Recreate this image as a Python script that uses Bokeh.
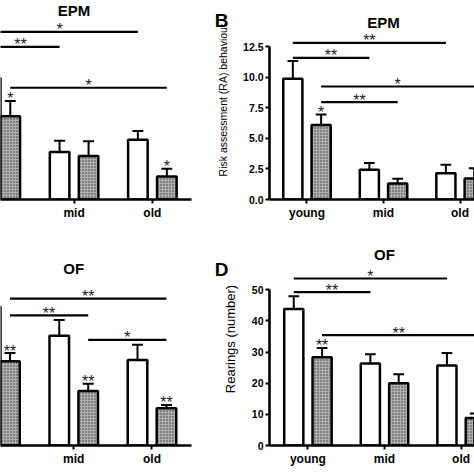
from bokeh.plotting import figure
from bokeh.models import Range1d, FixedTicker, NumeralTickFormatter, LinearAxis
from bokeh.layouts import column, row
from bokeh.embed import file_html
from bokeh.resources import INLINE
from bokeh.core.properties import value

categories = ["young", "mid", "old"]

# Panel A (EPM, left, y axis cropped away)
a_open = [62.0, 24.2, 30.5]
a_open_err = [8.0, 5.8, 4.5]
a_hatch = [42.5, 22.2, 11.7]
a_hatch_err = [7.8, 7.5, 4.0]
a_hatch_stars = ["*", "", "*"]
a_sig_from = [("young", "open"), ("young", "open"), ("young", "hatch")]
a_sig_to = [("old", "open"), ("mid", "open"), ("old", "hatch")]
a_sig_y = [85.5, 77.8, 57.0]
a_sig_text = ["*", "**", "*"]

# Panel B (EPM, risk assessment)
b_open = [9.9, 2.43, 2.15]
b_open_err = [1.45, 0.57, 0.69]
b_hatch = [6.1, 1.31, 1.72]
b_hatch_err = [0.87, 0.39, 0.85]
b_hatch_stars = ["*", "", ""]
b_sig_from = [("young", "open"), ("young", "open"), ("young", "hatch"), ("young", "hatch")]
b_sig_to = [("old", "open"), ("mid", "open"), ("old", "hatch"), ("mid", "hatch")]
b_sig_y = [12.84, 11.61, 9.26, 7.98]
b_sig_text = ["**", "**", "*", "**"]
b_yticks = [0, 2.5, 5.0, 7.5, 10.0, 12.5]

# Panel C (OF, left, y axis cropped away)
c_open = [140.0, 110.7, 86.3]
c_open_err = [15.0, 16.0, 15.4]
c_hatch = [85.0, 55.0, 37.7]
c_hatch_err = [8.3, 7.3, 3.3]
c_hatch_stars = ["**", "**", "**"]
c_sig_from = [("young", "hatch"), ("young", "hatch"), ("mid", "hatch")]
c_sig_to = [("old", "hatch"), ("mid", "hatch"), ("old", "hatch")]
c_sig_y = [148.3, 131.3, 106.7]
c_sig_text = ["**", "**", "*"]

# Panel D (OF, rearings)
d_open = [43.8, 26.3, 25.7]
d_open_err = [4.1, 3.0, 4.0]
d_hatch = [28.3, 20.0, 8.8]
d_hatch_err = [3.0, 2.9, 1.5]
d_hatch_stars = ["**", "", ""]
d_sig_from = [("young", "open"), ("young", "open"), ("young", "hatch")]
d_sig_to = [("old", "open"), ("mid", "open"), ("old", "hatch")]
d_sig_y = [53.6, 49.2, 35.4]
d_sig_text = ["*", "**", "**"]
d_yticks = [0, 10, 20, 30, 40, 50]

FONT = "Liberation Sans"
OFF = 0.185
BAR_W = 0.25
CAP = 0.07
STAR_SIZE = "16px"
STAR_COLOR = "#222222"


def pos(cat, series):
    i = categories.index(cat)
    return i - OFF if series == "open" else i + OFF


def panel(width, height, xr, yr, borders, title, title_y, opn, opn_err, hat, hat_err,
          stars, sig_from, sig_to, sig_y, sig_text, yticks=None, ylabel=None,
          yfmt="0", ylabel_size="13px", letter=None, letter_shift=-9):
    left, right, top, bottom = borders
    p = figure(width=width, height=height, x_range=Range1d(*xr), y_range=Range1d(*yr),
               output_backend="svg", toolbar_location=None,
               y_axis_location="left" if yticks else None,
               min_border_left=left, min_border_right=right,
               min_border_top=top, min_border_bottom=bottom)
    p.outline_line_color = None
    p.xgrid.visible = False
    p.ygrid.visible = False
    p.background_fill_color = "white"
    p.border_fill_color = "white"

    xa = p.xaxis[0]
    xa.ticker = FixedTicker(ticks=[0, 1, 2])
    xa.major_label_overrides = {0: categories[0], 1: categories[1], 2: categories[2]}
    xa.minor_tick_line_color = None
    xa.axis_line_width = 2.6
    xa.major_tick_line_width = 2
    xa.major_tick_in = 0
    xa.major_tick_out = 4
    xa.major_label_standoff = 2
    xa.major_label_text_font = FONT
    xa.major_label_text_font_style = "bold"
    xa.major_label_text_font_size = "12px"
    xa.major_label_text_color = "black"

    if yticks:
        ya = p.yaxis[0]
        ya.ticker = FixedTicker(ticks=yticks)
        ya.bounds = (yticks[0], yticks[-1])
        ya.formatter = NumeralTickFormatter(format=yfmt)
        ya.minor_tick_line_color = None
        ya.axis_line_width = 2.6
        ya.major_tick_line_width = 2
        ya.major_tick_in = 0
        ya.major_tick_out = 4
        ya.major_label_standoff = 2
        ya.major_label_text_font = FONT
        ya.major_label_text_font_style = "bold"
        ya.major_label_text_font_size = "10.5px"
        ya.major_label_text_color = "black"
        ya.axis_label = ylabel
        ya.axis_label_text_font = FONT
        ya.axis_label_text_font_style = "normal"
        ya.axis_label_text_font_size = ylabel_size
        ya.axis_label_text_color = "black"
        ya.axis_label_standoff = 11

    if letter:
        ly, lt = letter
        la = LinearAxis(ticker=FixedTicker(ticks=[ly]), major_label_overrides={ly: lt},
                        axis_line_color=None, major_tick_line_color=None,
                        minor_tick_line_color=None, major_tick_out=0, major_tick_in=0,
                        major_label_standoff=letter_shift, major_label_text_font=FONT,
                        major_label_text_font_style="bold",
                        major_label_text_font_size="19px", major_label_text_color="black")
        p.add_layout(la, "left")

    xo = [i - OFF for i in range(3)]
    xh = [i + OFF for i in range(3)]

    # error bars (upper only)
    for xs, vals, errs in ((xo, opn, opn_err), (xh, hat, hat_err)):
        tops = [v + e for v, e in zip(vals, errs)]
        p.segment(x0=xs, y0=vals, x1=xs, y1=tops, line_color="black", line_width=2)
        p.segment(x0=[x - CAP for x in xs], y0=tops, x1=[x + CAP for x in xs], y1=tops,
                  line_color="black", line_width=2)

    p.vbar(x=xo, top=opn, bottom=0, width=BAR_W, fill_color="white",
           line_color="black", line_width=2.5)
    p.vbar(x=xh, top=hat, bottom=0, width=BAR_W, fill_color="#b0b0b0",
           hatch_pattern="dot", hatch_color="#333333", hatch_scale=3, hatch_weight=1.3,
           line_color="black", line_width=2.5)

    # stars above bars
    sx, sy, st = [], [], []
    for i, s in enumerate(stars):
        if s:
            sx.append(xh[i])
            sy.append(hat[i] + hat_err[i])
            st.append(s)
    if sx:
        p.text(x=sx, y=sy, text=st, text_font=value(FONT), text_font_size=STAR_SIZE,
               text_align="center", text_baseline="middle", text_color=STAR_COLOR,
               y_offset=-2)

    # significance lines
    x0 = [pos(*f) for f in sig_from]
    x1 = [pos(*t) for t in sig_to]
    p.segment(x0=x0, y0=sig_y, x1=x1, y1=sig_y, line_color="black", line_width=2.2)
    p.text(x=[(a + b) / 2 for a, b in zip(x0, x1)], y=sig_y, text=sig_text,
           text_font=value(FONT), text_font_size=STAR_SIZE, text_align="center",
           text_baseline="middle", text_color=STAR_COLOR, y_offset=-2)

    # panel title
    p.text(x=[1.0], y=[title_y], text=[title], text_font=value(FONT),
           text_font_size="15px", text_font_style="bold", text_align="center",
           text_baseline="middle", text_color="black")
    return p


pA = panel(205, 232, (0.06, 2.5), (0, 101.5), (0, 14, 0, 29), "EPM", 96.5,
           a_open, a_open_err, a_hatch, a_hatch_err, a_hatch_stars,
           a_sig_from, a_sig_to, a_sig_y, a_sig_text)

pB = panel(269, 232, (-0.49, 2.189), (0, 16.31), (64, 0, 0, 33), "EPM", 14.53,
           b_open, b_open_err, b_hatch, b_hatch_err, b_hatch_stars,
           b_sig_from, b_sig_to, b_sig_y, b_sig_text,
           yticks=b_yticks, ylabel="Risk assessment (RA) behaviour", yfmt="0.0",
           ylabel_size="10.5px", letter=(14.67, "B"), letter_shift=-14)

pC = panel(205, 242, (0.064, 2.505), (0, 215.0), (0, 14, 0, 27), "OF", 178.3,
           c_open, c_open_err, c_hatch, c_hatch_err, c_hatch_stars,
           c_sig_from, c_sig_to, c_sig_y, c_sig_text)

pD = panel(269, 242, (-0.502, 2.175), (0, 68.37), (64, 0, 0, 29), "OF", 61.4,
           d_open, d_open_err, d_hatch, d_hatch_err, d_hatch_stars,
           d_sig_from, d_sig_to, d_sig_y, d_sig_text,
           yticks=d_yticks, ylabel="Rearings (number)", yfmt="0",
           ylabel_size="13px", letter=(56.6, "D"), letter_shift=-9)

layout = column(row(pA, pB), row(pC, pD))
open("out.html", "w").write(file_html(layout, INLINE))
